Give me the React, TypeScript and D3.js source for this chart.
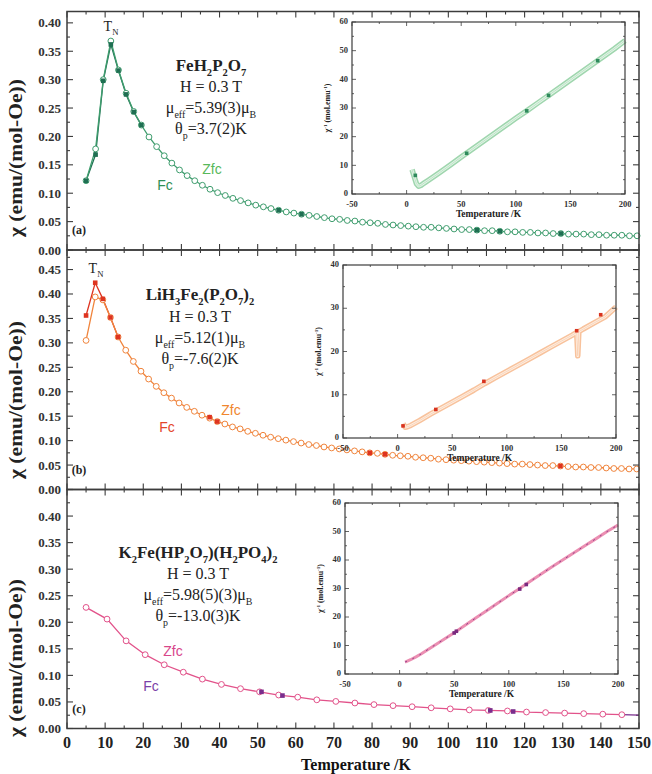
import React from "react";
import * as d3 from "d3";

// ---- main panels: temperature (K) vs chi (emu/(mol-Oe)) ----
// (a) FeH2P2O7
const tempA = [5, 7.5, 9.5, 11.5, 13.5, 15.5, 17.5, 19.5, 21.5, 23.5, 25.5, 27.5, 29.5, 31.5, 33.5, 35.5, 37.5, 39.5, 41.5, 43.5, 45.5, 47.5, 49.5, 51.5, 53.5, 55.5, 57.5, 59.5, 61.5, 63.5, 65.5, 67.5, 69.5, 71.5, 73.5, 75.5, 77.5, 79.5, 81.5, 83.5, 85.5, 87.5, 89.5, 91.5, 93.5, 95.5, 97.5, 99.5, 101.5, 103.5, 105.5, 107.5, 109.5, 111.5, 113.5, 115.5, 117.5, 119.5, 121.5, 123.5, 125.5, 127.5, 129.5, 131.5, 133.5, 135.5, 137.5, 139.5, 141.5, 143.5, 145.5, 147.5, 149.5];
const zfcA = [0.122, 0.178, 0.300, 0.368, 0.317, 0.276, 0.244, 0.220, 0.199, 0.182, 0.166, 0.153, 0.141, 0.131, 0.122, 0.114, 0.107, 0.101, 0.096, 0.091, 0.087, 0.083, 0.079, 0.076, 0.073, 0.070, 0.067, 0.065, 0.063, 0.061, 0.059, 0.057, 0.055, 0.054, 0.052, 0.051, 0.049, 0.048, 0.047, 0.045, 0.044, 0.043, 0.042, 0.041, 0.040, 0.040, 0.039, 0.038, 0.037, 0.036, 0.036, 0.035, 0.034, 0.034, 0.033, 0.032, 0.032, 0.031, 0.031, 0.030, 0.030, 0.029, 0.029, 0.028, 0.028, 0.028, 0.027, 0.027, 0.026, 0.026, 0.026, 0.025, 0.025];
const fcTempA = [5, 7.5, 9.5, 11.5, 13.5, 15.5, 17.5, 19.5];
const fcA = [0.122, 0.168, 0.298, 0.362, 0.316, 0.274, 0.243, 0.220];
const fcDotTempA = [55.5, 61.5, 107.5, 113.5, 129.5];
const fcDotA = [0.070, 0.063, 0.035, 0.033, 0.029];

// (b) LiH3Fe2(P2O7)2
const tempB = [5, 7.4, 9.4, 11.4, 13.4, 15.4, 17.4, 19.4, 21.4, 23.4, 25.4, 27.4, 29.4, 31.4, 33.4, 35.4, 37.4, 39.4, 41.4, 43.4, 45.4, 47.4, 49.4, 51.4, 53.4, 55.4, 57.4, 59.4, 61.4, 63.4, 65.4, 67.4, 69.4, 71.4, 73.4, 75.4, 77.4, 79.4, 81.4, 83.4, 85.4, 87.4, 89.4, 91.4, 93.4, 95.4, 97.4, 99.4, 101.4, 103.4, 105.4, 107.4, 109.4, 111.4, 113.4, 115.4, 117.4, 119.4, 121.4, 123.4, 125.4, 127.4, 129.4, 131.4, 133.4, 135.4, 137.4, 139.4, 141.4, 143.4, 145.4, 147.4, 149.4];
const zfcB = [0.305, 0.394, 0.388, 0.352, 0.312, 0.285, 0.262, 0.242, 0.226, 0.211, 0.198, 0.187, 0.177, 0.168, 0.160, 0.152, 0.146, 0.139, 0.134, 0.128, 0.124, 0.119, 0.115, 0.111, 0.107, 0.104, 0.101, 0.098, 0.095, 0.092, 0.090, 0.087, 0.085, 0.083, 0.081, 0.079, 0.077, 0.075, 0.074, 0.072, 0.070, 0.069, 0.068, 0.066, 0.065, 0.064, 0.062, 0.061, 0.060, 0.059, 0.058, 0.057, 0.056, 0.055, 0.054, 0.053, 0.052, 0.052, 0.051, 0.050, 0.049, 0.049, 0.048, 0.047, 0.046, 0.046, 0.045, 0.045, 0.044, 0.043, 0.043, 0.042, 0.042];
const fcTempB = [5, 7.4, 9.4, 11.4, 13.4];
const fcB = [0.356, 0.423, 0.390, 0.352, 0.312];
const fcDotTempB = [37.4, 39.4, 79.4, 83.4, 129.4];
const fcDotB = [0.148, 0.139, 0.075, 0.072, 0.048];

// (c) K2Fe(HP2O7)(H2PO4)2
const tempC = [5, 10.5, 15.5, 20.5, 25.5, 30.5, 35.5, 40.5, 45.5, 50.5, 55.5, 60.5, 65.5, 70.5, 75.5, 80.5, 85.5, 90.5, 95.5, 100.5, 105.5, 110.5, 115.5, 120.5, 125.5, 130.5, 135.5, 140.5, 145.5];
const zfcC = [0.228, 0.206, 0.165, 0.139, 0.120, 0.106, 0.093, 0.083, 0.075, 0.069, 0.063, 0.059, 0.054, 0.051, 0.048, 0.045, 0.043, 0.041, 0.039, 0.037, 0.035, 0.034, 0.033, 0.031, 0.030, 0.029, 0.028, 0.027, 0.026];
const fcTempC = [145.5, 150];
const fcC = [0.026, 0.025];
const fcDotTempC = [51, 56.5, 111, 117];
const fcDotC = [0.069, 0.062, 0.034, 0.032];

// ---- insets: temperature (K) vs 1/chi (mol/emu) ----
const insetTempA = [5, 7, 9, 11, 13, 16, 20, 30, 40, 50, 60, 70, 80, 90, 100, 110, 120, 130, 140, 150, 160, 170, 180, 190, 200];
const insetInvA = [8.5, 6.0, 3.6, 2.7, 3.0, 3.8, 4.8, 7.4, 10.1, 12.9, 15.6, 18.3, 21.0, 23.7, 26.4, 29.0, 31.7, 34.4, 37.1, 39.8, 42.5, 45.2, 47.9, 50.6, 53.5];
const insetDotTempA = [8, 55, 110, 130, 175];
const insetDotA = [6.5, 14.2, 29.0, 34.4, 46.5];

const insetTempB = [5, 7, 9, 12, 20, 30, 40, 50, 60, 70, 80, 90, 100, 110, 120, 130, 140, 150, 160, 164, 165, 166, 170, 180, 190, 200];
const insetInvB = [3.3, 2.5, 2.6, 2.9, 4.0, 5.5, 6.9, 8.3, 9.7, 11.1, 12.6, 14.0, 15.4, 16.8, 18.2, 19.6, 21.0, 22.4, 23.8, 24.4, 19.0, 24.6, 25.2, 26.6, 28.0, 30.3];
const insetDotTempB = [5, 35, 79, 164, 186];
const insetDotB = [2.8, 6.6, 13.1, 24.8, 28.5];

const insetTempC = [5, 10, 15, 20, 30, 40, 50, 60, 70, 80, 90, 100, 110, 120, 130, 140, 150, 160, 170, 180, 190, 200];
const insetInvC = [4.2, 5.0, 6.0, 7.1, 9.6, 12.0, 14.5, 17.1, 19.7, 22.3, 24.9, 27.5, 30.0, 32.6, 35.2, 37.7, 40.2, 42.6, 45.1, 47.5, 50.0, 52.3];
const insetDotTempC = [50, 52, 110, 116];
const insetDotC = [14.4, 15.0, 29.8, 31.4];

// ---- tick labels ----
const xTickLabels = [0, 10, 20, 30, 40, 50, 60, 70, 80, 90, 100, 110, 120, 130, 140, 150];
const yTickLabelsA = [0, 0.05, 0.1, 0.15, 0.2, 0.25, 0.3, 0.35, 0.4];
const yTickLabelsB = [0, 0.05, 0.1, 0.15, 0.2, 0.25, 0.3, 0.35, 0.4, 0.45];
const yTickLabelsC = [0, 0.05, 0.1, 0.15, 0.2, 0.25, 0.3, 0.35, 0.4];
const insetXTicks = [-50, 0, 50, 100, 150, 200];
const insetYTicks60 = [0, 10, 20, 30, 40, 50, 60];
const insetYTicks40 = [0, 10, 20, 30, 40];

const SERIF = "'Liberation Serif', 'Times New Roman', serif";
const SANS = "'Liberation Sans', Arial, sans-serif";
const FRAME = "#3c3c3c";

type Part = [string, string?];

// text with sub/superscripts
function rich(parts: Part[], size: number) {
  let cur = 0;
  return parts.map(([t, k], i) => {
    const target = k === "sub" ? size * 0.32 : k === "sup" ? -size * 0.42 : 0;
    const dy = target - cur;
    cur = target;
    return (
      <tspan key={i} dy={dy} fontSize={k ? size * 0.62 : size}>
        {t}
      </tspan>
    );
  });
}

const x = d3.scaleLinear().domain([0, 150]).range([67, 639]);

const panels = [
  {
    key: "a", top: 11.5, bottom: 250, max: 0.42,
    temp: tempA, zfc: zfcA, fcTemp: fcTempA, fc: fcA, dotTemp: fcDotTempA, dot: fcDotA,
    yLabels: yTickLabelsA,
    line: "#3f9d6e", fcColor: "#1f6f52", zfcText: "#58b85a", fcText: "#2f8f55",
    letter: "(a)", title: 158,
    formula: [["FeH"], ["2", "sub"], ["P"], ["2", "sub"], ["O"], ["7", "sub"]] as Part[],
    mu: "=5.39(3)\u03bc", theta: "=3.7(2)K",
    textX: 211, textY: [71, 92, 113, 134],
    zfcPos: [212, 174], fcPos: [165, 190], tn: [111, 31],
    inset: { left: 352, right: 625, top: 22, bottom: 194, max: 60, yTicks: insetYTicks60,
      temp: insetTempA, inv: insetInvA, dotTemp: insetDotTempA, dot: insetDotA,
      band: "#9fd6ae", inner: "#e3f4e7", dotColor: "#2e8a5c" },
  },
  {
    key: "b", top: 250, bottom: 489.5, max: 0.49,
    temp: tempB, zfc: zfcB, fcTemp: fcTempB, fc: fcB, dotTemp: fcDotTempB, dot: fcDotB,
    yLabels: yTickLabelsB,
    line: "#f0843c", fcColor: "#de3420", zfcText: "#f0862e", fcText: "#e3452b",
    letter: "(b)", title: 400,
    formula: [["LiH"], ["3", "sub"], ["Fe"], ["2", "sub"], ["(P"], ["2", "sub"], ["O"], ["7", "sub"], [")"], ["2", "sub"]] as Part[],
    mu: "=5.12(1)\u03bc", theta: "=-7.6(2)K",
    textX: 200, textY: [300, 322, 343, 364],
    zfcPos: [231, 415], fcPos: [167, 432], tn: [96, 273],
    inset: { left: 343, right: 616, top: 265, bottom: 438, max: 40, yTicks: insetYTicks40,
      temp: insetTempB, inv: insetInvB, dotTemp: insetDotTempB, dot: insetDotB,
      band: "#f8c29c", inner: "#fdeee2", dotColor: "#d8331f" },
  },
  {
    key: "c", top: 489.5, bottom: 728.5, max: 0.45,
    temp: tempC, zfc: zfcC, fcTemp: fcTempC, fc: fcC, dotTemp: fcDotTempC, dot: fcDotC,
    yLabels: yTickLabelsC,
    line: "#e2528a", fcColor: "#7a2d8c", zfcText: "#d8468a", fcText: "#7b3fa8",
    letter: "(c)", title: 658,
    formula: [["K"], ["2", "sub"], ["Fe(HP"], ["2", "sub"], ["O"], ["7", "sub"], [")(H"], ["2", "sub"], ["PO"], ["4", "sub"], [")"], ["2", "sub"]] as Part[],
    mu: "=5.98(5)(3)\u03bc", theta: "=-13.0(3)K",
    textX: 198, textY: [558, 579, 600, 621],
    zfcPos: [173, 656], fcPos: [151, 691], tn: null as null | number[],
    inset: { left: 345, right: 618, top: 503, bottom: 674, max: 60, yTicks: insetYTicks60,
      temp: insetTempC, inv: insetInvC, dotTemp: insetDotTempC, dot: insetDotC,
      band: "#eb8fb2", inner: "#e35d92", dotColor: "#7a2a7f" },
  },
];

function Inset({ cfg, idx }: { cfg: any; idx: number }) {
  const ix = d3.scaleLinear().domain([-50, 200]).range([cfg.left, cfg.right]);
  const iy = d3.scaleLinear().domain([0, cfg.max]).range([cfg.bottom, cfg.top]);
  const pts = cfg.temp.map((t: number, i: number) => [t, cfg.inv[i]] as [number, number]);
  const path = d3.line<[number, number]>().x((d) => ix(d[0])).y((d) => iy(d[1]))(pts) || "";
  const xMinor = d3.range(-50, 201, 25);
  const yMinor = d3.range(0, cfg.max + 0.1, 5);
  const fs = 8.5;
  return (
    <g>
      <rect x={cfg.left} y={cfg.top} width={cfg.right - cfg.left} height={cfg.bottom - cfg.top} fill="white" />
      {idx === 2 ? (
        <g>
          <path d={path} fill="none" stroke={cfg.band} strokeWidth={3} />
          <path d={path} fill="none" stroke={cfg.dotColor} strokeWidth={1} strokeDasharray="2,6" opacity={0.8} />
        </g>
      ) : (
        <g>
          <path d={path} fill="none" stroke={cfg.band} strokeWidth={5.5} strokeLinejoin="round" />
          <path d={path} fill="none" stroke={cfg.inner} strokeWidth={2.5} strokeLinejoin="round" />
          <path d={path} fill="none" stroke={cfg.band} strokeWidth={0.6} opacity={0.9} />
        </g>
      )}
      {cfg.dotTemp.map((t: number, i: number) => (
        <rect key={i} x={ix(t) - 1.8} y={iy(cfg.dot[i]) - 1.8} width={3.6} height={3.6} fill={cfg.dotColor} />
      ))}
      {xMinor.map((v) => {
        const major = insetXTicks.includes(v);
        const l = major ? 4 : 2;
        return (
          <g key={"x" + v} stroke={FRAME} strokeWidth={0.8}>
            <line x1={ix(v)} x2={ix(v)} y1={cfg.bottom} y2={cfg.bottom - l} />
            <line x1={ix(v)} x2={ix(v)} y1={cfg.top} y2={cfg.top + l} />
          </g>
        );
      })}
      {yMinor.map((v) => {
        const major = cfg.yTicks.includes(v);
        const l = major ? 4 : 2;
        return (
          <g key={"y" + v} stroke={FRAME} strokeWidth={0.8}>
            <line x1={cfg.left} x2={cfg.left + l} y1={iy(v)} y2={iy(v)} />
            <line x1={cfg.right} x2={cfg.right - l} y1={iy(v)} y2={iy(v)} />
          </g>
        );
      })}
      <rect x={cfg.left} y={cfg.top} width={cfg.right - cfg.left} height={cfg.bottom - cfg.top} fill="none" stroke={FRAME} strokeWidth={1.2} />
      {insetXTicks.map((v) => (
        <text key={"xl" + v} x={ix(v)} y={cfg.bottom + 12.5} textAnchor="middle" fontSize={fs} fontWeight="bold" fontFamily={SERIF} fill="#333">
          {v}
        </text>
      ))}
      {cfg.yTicks.map((v: number) => (
        <text key={"yl" + v} x={cfg.left - 4} y={iy(v) + 2.2} textAnchor="end" fontSize={fs} fontWeight="bold" fontFamily={SERIF} fill="#333">
          {v}
        </text>
      ))}
      <text x={(cfg.left + cfg.right) / 2} y={cfg.bottom + 23} textAnchor="middle" fontSize={9.5} fontWeight="bold" fontFamily={SERIF} fill="#222">
        Temperature /K
      </text>
      <text transform={`translate(${cfg.left - 22},${(cfg.top + cfg.bottom) / 2}) rotate(-90)`} textAnchor="middle" fontSize={8} fontWeight="bold" fontFamily={SERIF} fill="#222">
        {rich([["\u03c7"], ["-1", "sup"], [" (mol.emu"], ["-1", "sup"], [")"]], 8)}
      </text>
    </g>
  );
}

function Panel({ p, idx }: { p: (typeof panels)[number]; idx: number }) {
  const y = d3.scaleLinear().domain([0, p.max]).range([p.bottom, p.top]);
  const line = d3.line<[number, number]>().x((d) => x(d[0])).y((d) => y(d[1]));
  const zfcPts = p.temp.map((t, i) => [t, p.zfc[i]] as [number, number]);
  const fcPts = p.fcTemp.map((t, i) => [t, p.fc[i]] as [number, number]);
  const xt = d3.range(0, 151, 5);
  const yt = d3.range(0, p.max + 1e-6, 0.025);
  const fs = 16;
  return (
    <g>
      {/* ticks */}
      {xt.map((v) => {
        const l = v % 10 === 0 ? 6 : 3;
        return (
          <g key={"xt" + v} stroke={FRAME} strokeWidth={1.1}>
            <line x1={x(v)} x2={x(v)} y1={p.bottom} y2={p.bottom - l} />
            <line x1={x(v)} x2={x(v)} y1={p.top} y2={p.top + l} />
          </g>
        );
      })}
      {yt.map((v, i) => {
        const l = i % 2 === 0 ? 6 : 3;
        return (
          <g key={"yt" + i} stroke={FRAME} strokeWidth={1.1}>
            <line x1={x(0)} x2={x(0) + l} y1={y(v)} y2={y(v)} />
            <line x1={x(150)} x2={x(150) - l} y1={y(v)} y2={y(v)} />
          </g>
        );
      })}
      {p.yLabels.map((v) => (
        <text key={"yl" + v} x={61} y={y(v) + 4.5} textAnchor="end" fontSize={13} fontWeight="bold" fontFamily={SERIF} fill="#333">
          {v.toFixed(2)}
        </text>
      ))}
      {/* series */}
      {fcPts.length > 0 && <path d={line(fcPts) || ""} fill="none" stroke={p.fcColor} strokeWidth={1.3} />}
      <path d={line(zfcPts) || ""} fill="none" stroke={p.line} strokeWidth={1.3} />
      {zfcPts.map((d, i) => (
        <circle key={"z" + i} cx={x(d[0])} cy={y(d[1])} r={2.9} fill="white" stroke={p.line} strokeWidth={1} />
      ))}
      {idx < 2 &&
        fcPts.map((d, i) => (
          <rect key={"f" + i} x={x(d[0]) - 2.3} y={y(d[1]) - 2.3} width={4.6} height={4.6} fill={p.fcColor} />
        ))}
      {p.dotTemp.map((t, i) => (
        <rect key={"d" + i} x={x(t) - 2.3} y={y(p.dot[i]) - 2.3} width={4.6} height={4.6} fill={p.fcColor} />
      ))}
      {/* annotations */}
      <g fontFamily={SERIF} fill="#222" textAnchor="middle">
        <text x={p.textX} y={p.textY[0]} fontWeight="bold">{rich(p.formula, 17)}</text>
        <text x={p.textX} y={p.textY[1]} fontSize={fs}>H = 0.3 T</text>
        <text x={p.textX} y={p.textY[2]}>{rich([["\u03bc"], ["eff", "sub"], [p.mu], ["B", "sub"]], fs)}</text>
        <text x={p.textX} y={p.textY[3]}>{rich([["\u03b8"], ["p", "sub"], [p.theta]], fs)}</text>
      </g>
      <text x={p.zfcPos[0]} y={p.zfcPos[1]} textAnchor="middle" fontSize={14} fontFamily={SANS} fill={p.zfcText}>Zfc</text>
      <text x={p.fcPos[0]} y={p.fcPos[1]} textAnchor="middle" fontSize={14} fontFamily={SANS} fill={p.fcText}>Fc</text>
      {p.tn && (
        <text x={p.tn[0]} y={p.tn[1]} textAnchor="middle" fontFamily={SERIF} fill="#222">{rich([["T"], ["N", "sub"]], 14)}</text>
      )}
      <text x={79} y={p.bottom - 16} textAnchor="middle" fontSize={12} fontWeight="bold" fontFamily={SERIF} fill="#222">{p.letter}</text>
      <text transform={`translate(22,${p.title}) rotate(-90)`} textAnchor="middle" fontSize={18} fontWeight="bold" fontFamily={SERIF} fill="#222" textLength={158} lengthAdjust="spacingAndGlyphs">
        {"\u03c7 (emu/(mol-Oe))"}
      </text>
      <Inset cfg={p.inset} idx={idx} />
    </g>
  );
}

export default function App() {
  return (
    <svg width={652} height={774} style={{ position: "absolute", left: 0, top: 0, background: "white" }}>
      <rect width={652} height={774} fill="white" />
      {panels.map((p, i) => (
        <Panel key={p.key} p={p} idx={i} />
      ))}
      {/* outer frame and panel separators */}
      {panels.map((p) => (
        <rect key={"fr" + p.key} x={x(0)} y={p.top} width={x(150) - x(0)} height={p.bottom - p.top} fill="none" stroke={FRAME} strokeWidth={1.5} />
      ))}
      {xTickLabels.map((v) => (
        <text key={"xl" + v} x={x(v)} y={748} textAnchor="middle" fontSize={16} fontWeight="bold" fontFamily={SERIF} fill="#222">
          {v}
        </text>
      ))}
      <text x={356} y={770} textAnchor="middle" fontSize={16} fontWeight="bold" fontFamily={SERIF} fill="#111">
        Temperature /K
      </text>
    </svg>
  );
}
